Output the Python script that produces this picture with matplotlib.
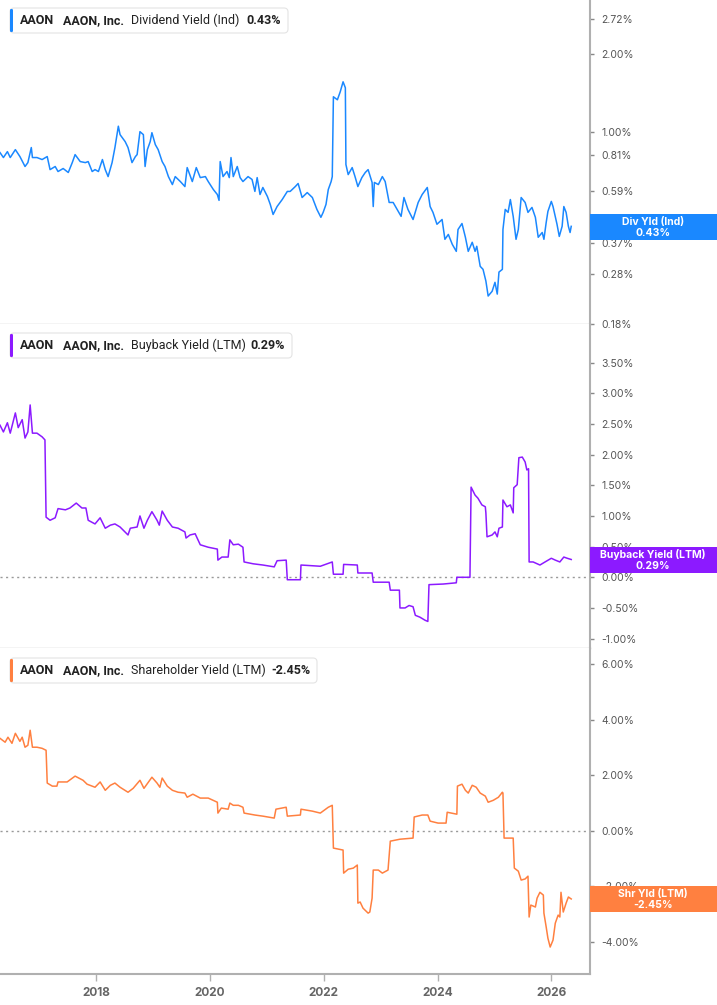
import matplotlib
matplotlib.use("Agg")
import matplotlib.pyplot as plt
from matplotlib.patches import FancyBboxPatch, Rectangle

plt.rcParams['font.family'] = ['Inter', 'DejaVu Sans']

# ---- data (decimal year, percent) ----
div_dates = [2016.31, 2016.37, 2016.44, 2016.49, 2016.58, 2016.66, 2016.75, 2016.80, 2016.86, 2016.88,
             2016.96, 2017.05, 2017.14, 2017.19, 2017.28, 2017.33, 2017.42, 2017.51, 2017.58, 2017.63,
             2017.72, 2017.81, 2017.86, 2017.93, 2017.98, 2018.04, 2018.11, 2018.16, 2018.21, 2018.28,
             2018.33, 2018.39, 2018.42, 2018.51, 2018.56, 2018.63, 2018.69, 2018.72, 2018.77, 2018.83,
             2018.86, 2018.90, 2018.95, 2018.98, 2019.04, 2019.09, 2019.16, 2019.21, 2019.27, 2019.34,
             2019.39, 2019.48, 2019.56, 2019.60, 2019.69, 2019.76, 2019.83, 2019.92, 2019.97, 2020.06,
             2020.13, 2020.16, 2020.18, 2020.23, 2020.30, 2020.34, 2020.37, 2020.41, 2020.48, 2020.53,
             2020.58, 2020.67, 2020.74, 2020.79, 2020.83, 2020.88, 2020.93, 2021.01, 2021.06, 2021.11,
             2021.18, 2021.27, 2021.36, 2021.41, 2021.50, 2021.55, 2021.62, 2021.71, 2021.80, 2021.88,
             2021.95, 2021.99, 2022.04, 2022.08, 2022.13, 2022.15, 2022.17, 2022.24, 2022.29, 2022.34,
             2022.38, 2022.39, 2022.43, 2022.50, 2022.55, 2022.60, 2022.67, 2022.73, 2022.78, 2022.85,
             2022.87, 2022.89, 2022.96, 2023.03, 2023.08, 2023.15, 2023.22, 2023.29, 2023.36, 2023.41,
             2023.48, 2023.57, 2023.66, 2023.73, 2023.82, 2023.87, 2023.92, 2023.99, 2024.08, 2024.13,
             2024.19, 2024.26, 2024.33, 2024.36, 2024.43, 2024.49, 2024.54, 2024.61, 2024.66, 2024.69,
             2024.75, 2024.80, 2024.85, 2024.89, 2024.96, 2025.01, 2025.05, 2025.08, 2025.14, 2025.15,
             2025.19, 2025.24, 2025.28, 2025.33, 2025.38, 2025.42, 2025.47, 2025.54, 2025.59, 2025.66,
             2025.72, 2025.77, 2025.84, 2025.87, 2025.91, 2025.94, 2026.00, 2026.03, 2026.10, 2026.14,
             2026.19, 2026.22, 2026.26, 2026.30, 2026.33, 2026.35]
div_vals = [0.830, 0.794, 0.837, 0.794, 0.852, 0.801, 0.733, 0.759, 0.868, 0.794,
            0.794, 0.780, 0.801, 0.713, 0.733, 0.701, 0.720, 0.695, 0.759, 0.815,
            0.766, 0.759, 0.766, 0.701, 0.713, 0.701, 0.780, 0.713, 0.670, 0.759,
            0.868, 1.050, 0.974, 0.915, 0.868, 0.759, 0.801, 0.815, 1.000, 0.974,
            0.733, 0.852, 0.915, 0.991, 0.891, 0.852, 0.766, 0.733, 0.670, 0.624,
            0.670, 0.641, 0.613, 0.726, 0.641, 0.726, 0.664, 0.670, 0.641, 0.597,
            0.571, 0.542, 0.766, 0.670, 0.701, 0.664, 0.794, 0.670, 0.733, 0.664,
            0.641, 0.670, 0.653, 0.587, 0.664, 0.571, 0.608, 0.561, 0.523, 0.478,
            0.513, 0.546, 0.587, 0.587, 0.613, 0.630, 0.556, 0.581, 0.556, 0.500,
            0.466, 0.487, 0.523, 0.597, 0.641, 0.670, 1.365, 1.329, 1.427, 1.560,
            1.479, 0.746, 0.682, 0.726, 0.670, 0.613, 0.664, 0.695, 0.713, 0.636,
            0.513, 0.636, 0.624, 0.670, 0.641, 0.532, 0.532, 0.500, 0.470, 0.556,
            0.500, 0.457, 0.532, 0.571, 0.608, 0.513, 0.487, 0.438, 0.457, 0.383,
            0.400, 0.366, 0.344, 0.418, 0.441, 0.390, 0.344, 0.373, 0.344, 0.360,
            0.301, 0.293, 0.264, 0.231, 0.241, 0.261, 0.235, 0.286, 0.293, 0.418,
            0.500, 0.487, 0.546, 0.470, 0.383, 0.418, 0.556, 0.532, 0.487, 0.509,
            0.466, 0.390, 0.407, 0.383, 0.445, 0.491, 0.537, 0.513, 0.438, 0.393,
            0.430, 0.513, 0.487, 0.430, 0.407, 0.430]

buy_dates = [2016.31, 2016.37, 2016.44, 2016.49, 2016.58, 2016.63, 2016.70, 2016.75, 2016.80, 2016.84,
             2016.88, 2016.96, 2017.05, 2017.10, 2017.12, 2017.19, 2017.28, 2017.33, 2017.46, 2017.54,
             2017.65, 2017.75, 2017.82, 2017.86, 2017.98, 2018.07, 2018.16, 2018.25, 2018.33, 2018.42,
             2018.56, 2018.60, 2018.72, 2018.77, 2018.84, 2018.90, 2018.98, 2019.07, 2019.11, 2019.16,
             2019.25, 2019.34, 2019.44, 2019.56, 2019.58, 2019.65, 2019.74, 2019.83, 2019.97, 2020.13,
             2020.14, 2020.21, 2020.32, 2020.35, 2020.41, 2020.50, 2020.58, 2020.60, 2020.76, 2020.93,
             2021.13, 2021.18, 2021.34, 2021.36, 2021.59, 2021.60, 2021.94, 2022.15, 2022.17, 2022.34,
             2022.35, 2022.59, 2022.60, 2022.85, 2022.87, 2023.15, 2023.17, 2023.33, 2023.34, 2023.43,
             2023.50, 2023.57, 2023.61, 2023.69, 2023.78, 2023.83, 2023.85, 2024.10, 2024.33, 2024.34,
             2024.57, 2024.59, 2024.66, 2024.71, 2024.78, 2024.84, 2024.85, 2024.87, 2024.96, 2025.01,
             2025.05, 2025.08, 2025.14, 2025.15, 2025.22, 2025.28, 2025.33, 2025.34, 2025.40, 2025.43,
             2025.49, 2025.54, 2025.57, 2025.60, 2025.61, 2025.68, 2025.80, 2025.89, 2026.00, 2026.07,
             2026.15, 2026.22, 2026.28, 2026.35]
buy_vals = [2.48, 2.37, 2.52, 2.35, 2.68, 2.44, 2.57, 2.27, 2.37, 2.81,
            2.35, 2.35, 2.29, 2.24, 0.98, 0.93, 0.97, 1.12, 1.10, 1.13,
            1.21, 1.13, 1.13, 0.93, 0.87, 0.97, 0.80, 0.85, 0.87, 0.82,
            0.69, 0.80, 0.82, 1.00, 0.80, 0.93, 1.07, 0.93, 0.85, 1.08,
            0.93, 0.82, 0.80, 0.74, 0.64, 0.69, 0.71, 0.53, 0.49, 0.46,
            0.28, 0.33, 0.33, 0.61, 0.53, 0.54, 0.49, 0.25, 0.22, 0.20,
            0.17, 0.27, 0.28, -0.04, -0.04, 0.20, 0.18, 0.25, 0.05, 0.05,
            0.21, 0.20, 0.07, 0.07, -0.08, -0.08, -0.21, -0.21, -0.50, -0.50,
            -0.46, -0.48, -0.62, -0.65, -0.70, -0.72, -0.12, -0.11, -0.09, 0.00,
            0.00, 1.47, 1.34, 1.29, 1.18, 1.15, 1.05, 0.66, 0.69, 0.74,
            0.66, 0.80, 0.82, 1.26, 1.15, 1.18, 1.05, 1.46, 1.51, 1.95,
            1.96, 1.88, 1.75, 1.77, 0.25, 0.25, 0.20, 0.25, 0.31, 0.28,
            0.25, 0.33, 0.31, 0.29]

shr_dates = [2016.31, 2016.40, 2016.45, 2016.52, 2016.58, 2016.66, 2016.70, 2016.75, 2016.80, 2016.84,
             2016.88, 2016.96, 2017.05, 2017.12, 2017.14, 2017.23, 2017.31, 2017.33, 2017.49, 2017.63,
             2017.77, 2017.84, 2017.98, 2018.07, 2018.16, 2018.25, 2018.33, 2018.42, 2018.56, 2018.65,
             2018.77, 2018.84, 2018.98, 2019.07, 2019.12, 2019.16, 2019.25, 2019.34, 2019.44, 2019.56,
             2019.60, 2019.70, 2019.83, 2019.97, 2020.13, 2020.14, 2020.20, 2020.32, 2020.35, 2020.41,
             2020.50, 2020.58, 2020.60, 2020.79, 2020.93, 2021.13, 2021.16, 2021.34, 2021.36, 2021.59,
             2021.60, 2021.80, 2021.94, 2022.08, 2022.15, 2022.17, 2022.34, 2022.35, 2022.43, 2022.52,
             2022.59, 2022.60, 2022.64, 2022.69, 2022.78, 2022.81, 2022.85, 2022.87, 2022.96, 2023.03,
             2023.13, 2023.17, 2023.34, 2023.57, 2023.59, 2023.73, 2023.83, 2023.87, 2024.01, 2024.15,
             2024.17, 2024.34, 2024.35, 2024.43, 2024.49, 2024.54, 2024.61, 2024.68, 2024.75, 2024.84,
             2024.89, 2024.98, 2025.07, 2025.14, 2025.15, 2025.17, 2025.33, 2025.35, 2025.42, 2025.47,
             2025.54, 2025.59, 2025.61, 2025.64, 2025.72, 2025.75, 2025.80, 2025.86, 2025.87, 2025.91,
             2025.94, 2025.98, 2026.03, 2026.07, 2026.12, 2026.15, 2026.17, 2026.21, 2026.26, 2026.30,
             2026.35]
shr_vals = [3.33, 3.19, 3.37, 3.15, 3.51, 3.22, 3.37, 3.01, 3.08, 3.62,
            3.01, 3.01, 2.97, 2.90, 1.72, 1.61, 1.61, 1.76, 1.76, 1.97,
            1.82, 1.68, 1.57, 1.76, 1.46, 1.64, 1.72, 1.57, 1.39, 1.53,
            1.82, 1.53, 1.93, 1.72, 1.57, 1.90, 1.61, 1.46, 1.39, 1.36,
            1.21, 1.32, 1.18, 1.18, 1.03, 0.64, 0.82, 0.78, 1.00, 0.92,
            0.92, 0.85, 0.64, 0.57, 0.53, 0.46, 0.78, 0.85, 0.53, 0.57,
            0.78, 0.71, 0.64, 0.85, 0.92, -0.62, -0.69, -1.52, -1.38, -1.34,
            -1.23, -2.60, -2.56, -2.78, -2.96, -2.92, -2.42, -1.41, -1.41, -1.52,
            -1.41, -0.37, -0.30, -0.26, 0.50, 0.57, 0.57, 0.35, 0.28, 0.28,
            0.67, 0.60, 1.61, 1.68, 1.46, 1.36, 1.64, 1.57, 1.36, 1.25,
            1.03, 1.10, 1.21, 1.39, 1.36, -0.26, -0.26, -1.34, -1.45, -1.77,
            -1.73, -1.63, -3.10, -2.67, -2.74, -2.42, -2.21, -2.31, -2.96, -3.46,
            -3.86, -4.18, -3.93, -3.32, -3.03, -3.10, -2.21, -2.92, -2.60, -2.38,
            -2.45]

div_ticks = [0.18, 0.28, 0.37, 0.59, 0.81, 1.00, 2.00, 2.72]
buy_ticks = [-1.0, -0.5, 0.0, 0.5, 1.0, 1.5, 2.0, 2.5, 3.0, 3.5]
shr_ticks = [-4.0, -2.0, 0.0, 2.0, 4.0, 6.0]
year_ticks = [2018, 2020, 2022, 2024, 2026]

BLUE = '#1a88ff'
PURPLE = '#8c1aff'
ORANGE = '#ff8040'

W, H = 717, 1005
fig = plt.figure(figsize=(W / 100, H / 100), dpi=100, facecolor='white')
tr = fig.dpi_scale_trans


def box(top, bot):
    return [0, 1 - bot / H, 590 / W, (bot - top) / H]


ax1 = fig.add_axes(box(0, 324))
ax2 = fig.add_axes(box(324, 648))
ax3 = fig.add_axes(box(648, 974))

ax1.plot(div_dates, div_vals, color=BLUE, lw=1.1)
ax1.set_yscale('log')
ax1.set_ylim(0.18, 3.235)
ax1.set_yticks(div_ticks)
ax1.set_yticklabels([f'{t:.2f}%' for t in div_ticks])
ax1.minorticks_off()

ax2.plot(buy_dates, buy_vals, color=PURPLE, lw=1.1)
ax2.set_ylim(-1.153, 4.13)
ax2.set_yticks(buy_ticks)
ax2.set_yticklabels([f'{t:.2f}%' for t in buy_ticks])
ax2.axhline(0, color='#999999', lw=1.0, ls=(0, (1.5, 2.5)), zorder=1)

ax3.plot(shr_dates, shr_vals, color=ORANGE, lw=1.1)
ax3.set_ylim(-5.15, 6.58)
ax3.set_yticks(shr_ticks)
ax3.set_yticklabels([f'{t:.2f}%' for t in shr_ticks])
ax3.axhline(0, color='#999999', lw=1.0, ls=(0, (1.5, 2.5)), zorder=1)

for ax in (ax1, ax2, ax3):
    ax.set_xlim(2016.31, 2026.68)
    ax.set_xticks(year_ticks)
    ax.yaxis.tick_right()
    ax.tick_params(axis='y', which='both', length=3, width=1, color='#888888',
                   labelsize=7.5, labelcolor='#555555', pad=5)
    for s in ('top', 'left'):
        ax.spines[s].set_visible(False)
    ax.spines['right'].set_color('#b0b0b0')
    ax.spines['right'].set_linewidth(1.5)
    ax.spines['bottom'].set_color('#c8c8c8')
    ax.spines['bottom'].set_linewidth(1.0)

for ax in (ax1, ax2):
    ax.tick_params(axis='x', length=0, labelbottom=False)
ax3.tick_params(axis='x', length=5, width=1, color='#b0b0b0', labelsize=8.5,
                labelcolor='#666666', pad=4)
for lbl in ax3.get_xticklabels():
    lbl.set_fontweight('bold')
ax3.spines['bottom'].set_color('#b0b0b0')
ax3.spines['bottom'].set_linewidth(1.5)


def P(x, y):
    return x / 100, (H - y) / 100


def legend(top, bot, right, color, name, value, valx):
    x0, y0 = P(10, bot)
    fig.patches.append(FancyBboxPatch((x0, y0), (right - 10) / 100, (bot - top) / 100,
                                      boxstyle='round,pad=0,rounding_size=0.04',
                                      fc='white', ec='#e4e4e4', lw=0.8, transform=tr))
    bx, by = P(10, bot - 1)
    fig.patches.append(FancyBboxPatch((bx, by), 0.03, (bot - top - 2) / 100,
                                      boxstyle='round,pad=0,rounding_size=0.012',
                                      fc=color, ec='none', transform=tr))
    yc = (top + bot) / 2
    for x, s, w in ((20, 'AAON', 'bold'), (63, 'AAON, Inc.', 'bold'),
                    (131, name, 'normal'), (valx, value, 'bold')):
        fig.text(*P(x, yc), s, transform=tr, fontsize=9, fontweight=w,
                 family=['Roboto', 'DejaVu Sans'], color='#222222', ha='left', va='center')


legend(8, 33, 288, BLUE, 'Dividend Yield (Ind)', '0.43%', 246)
legend(333, 358, 292, PURPLE, 'Buyback Yield (LTM)', '0.29%', 250)
legend(658, 683, 317, ORANGE, 'Shareholder Yield (LTM)', '-2.45%', 271)


def tag(top, bot, color, line1, line2):
    fig.patches.append(Rectangle(P(590, bot), 127 / 100, (bot - top) / 100,
                                 fc=color, ec='none', transform=tr))
    fig.text(*P(653, top + 7.5), line1, transform=tr, fontsize=7.5, fontweight='bold',
             color='white', ha='center', va='center')
    fig.text(*P(653, top + 18.5), line2, transform=tr, fontsize=7.5, fontweight='bold',
             color='white', ha='center', va='center')


tag(214, 240, BLUE, 'Div Yld (Ind)', '0.43%')
tag(547, 573, PURPLE, 'Buyback Yield (LTM)', '0.29%')
tag(886, 912, ORANGE, 'Shr Yld (LTM)', '-2.45%')

fig.savefig('out.png', dpi=100, facecolor='white')
